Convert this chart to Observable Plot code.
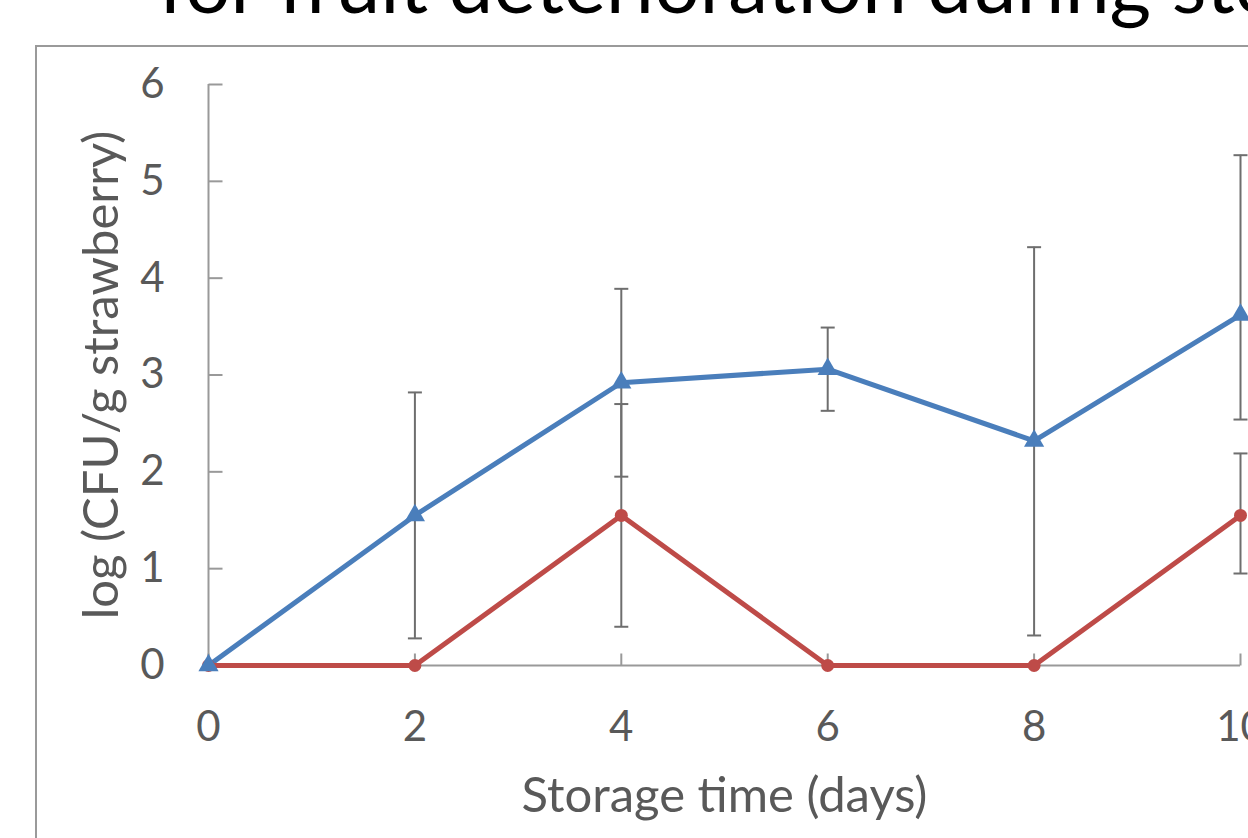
<!DOCTYPE html>
<html><head><meta charset="utf-8">
<script src="https://cdn.jsdelivr.net/npm/d3@7"></script>
<script src="https://cdn.jsdelivr.net/npm/@observablehq/plot@0.6"></script>
<style>
html,body{margin:0;padding:0;background:#fff;overflow:hidden;width:1248px;height:838px}
#wrap{position:relative;width:1248px;height:838px;overflow:hidden}
#chart{position:absolute;left:0;top:0}
#border{position:absolute;left:35px;top:45px;width:3000px;height:3000px;border-left:2px solid #9a9a9a;border-top:2px solid #9a9a9a;pointer-events:none}
</style></head><body><div id="wrap"><div id="chart"></div><div id="border"></div></div>
<script>
// Data
const days = [0, 2, 4, 6, 8, 10];
const blueMean = [0, 1.55, 2.92, 3.06, 2.32, 3.62];
const blueLow  = [null, 0.28, 1.95, 2.63, 0.31, 2.54];
const blueHigh = [null, 2.82, 3.89, 3.49, 4.32, 5.27];
const redMean  = [0, 0, 1.55, 0, 0, 1.55];
const redLow   = [null, null, 0.40, null, null, 0.95];
const redHigh  = [null, null, 2.70, null, null, 2.19];
const xTicks = [0, 2, 4, 6, 8, 10];
const yTicks = [0, 1, 2, 3, 4, 5, 6];
const titleText = "for fruit deterioration during storage";
const xLabel = "Storage time (days)";
const yLabel = "log (CFU/g strawberry)";

const blue = days.map((d, i) => ({day: d, v: blueMean[i], lo: blueLow[i], hi: blueHigh[i]}));
const red = days.map((d, i) => ({day: d, v: redMean[i], lo: redLow[i], hi: redHigh[i]}));
const blueErr = blue.filter(d => d.lo != null);
const redErr = red.filter(d => d.lo != null);

const capSym = {draw(c) { c.moveTo(-7, 0); c.lineTo(7, 0); }};
const tickUp = {draw(c) { c.moveTo(0, 0); c.lineTo(0, -12); }};
const tickRight = {draw(c) { c.moveTo(0, 0); c.lineTo(14, 0); }};

const axisColor = "#999999";
const errColor = "#6e6e6e";
const textColor = "#595959";
const font = "Lato, 'Noto Sans', sans-serif";

const plot = Plot.plot({
  width: 1248, height: 838,
  marginLeft: 208, marginRight: 8, marginTop: 84, marginBottom: 173,
  x: {domain: [0, 10]},
  y: {domain: [0, 6]},
  style: {fontFamily: font, background: "transparent", overflow: "visible"},
  marks: [
    Plot.ruleX([0], {x: d => d, y1: 0, y2: 6, stroke: axisColor, strokeWidth: 2}),
    Plot.ruleY([0], {y: d => d, stroke: axisColor, strokeWidth: 2}),
    Plot.dot(xTicks, {x: d => d, y: 0, symbol: tickUp, stroke: axisColor, strokeWidth: 2, fill: "none"}),
    Plot.dot(yTicks, {x: 0, y: d => d, symbol: tickRight, stroke: axisColor, strokeWidth: 2, fill: "none"}),
    Plot.axisX({ticks: xTicks, tickSize: 0, tickPadding: 46, fontSize: 42, fill: textColor, label: null, tickFormat: d => String(d)}),
    Plot.axisY({ticks: yTicks, tickSize: 0, tickPadding: 44, fontSize: 42, fill: textColor, label: null, tickFormat: d => String(d)}),
    // error bars
    Plot.ruleX(blueErr, {x: "day", y1: "lo", y2: "hi", stroke: errColor, strokeWidth: 2}),
    Plot.dot(blueErr, {x: "day", y: "lo", symbol: capSym, stroke: errColor, strokeWidth: 2, fill: "none"}),
    Plot.dot(blueErr, {x: "day", y: "hi", symbol: capSym, stroke: errColor, strokeWidth: 2, fill: "none"}),
    Plot.ruleX(redErr, {x: "day", y1: "lo", y2: "hi", stroke: errColor, strokeWidth: 2}),
    Plot.dot(redErr, {x: "day", y: "lo", symbol: capSym, stroke: errColor, strokeWidth: 2, fill: "none"}),
    Plot.dot(redErr, {x: "day", y: "hi", symbol: capSym, stroke: errColor, strokeWidth: 2, fill: "none"}),
    // lines
    Plot.line(blue, {x: "day", y: "v", stroke: "#4a7ebb", strokeWidth: 5}),
    Plot.line(red, {x: "day", y: "v", stroke: "#be4b48", strokeWidth: 5}),
    Plot.dot(red, {x: "day", y: "v", symbol: "circle", r: 6.5, fill: "#be4b48", stroke: "none"}),
    Plot.dot(blue, {x: "day", y: "v", symbol: "triangle", r: 7.5, fill: "#4a7ebb", stroke: "none"}),
    // texts
    Plot.text([titleText], {frameAnchor: "top-left", dx: -50, dy: -72, textAnchor: "start", lineAnchor: "bottom", fontSize: 80, fill: "#000", text: d => d}),
    Plot.text([xLabel], {frameAnchor: "bottom", textAnchor: "middle", dy: 146, fontSize: 49, fill: textColor, text: d => d}),
    Plot.text([yLabel], {frameAnchor: "left", textAnchor: "middle", rotate: -90, dx: -106, fontSize: 49, fill: textColor, text: d => d})
  ]
});
document.getElementById("chart").appendChild(plot);
</script></body></html>
